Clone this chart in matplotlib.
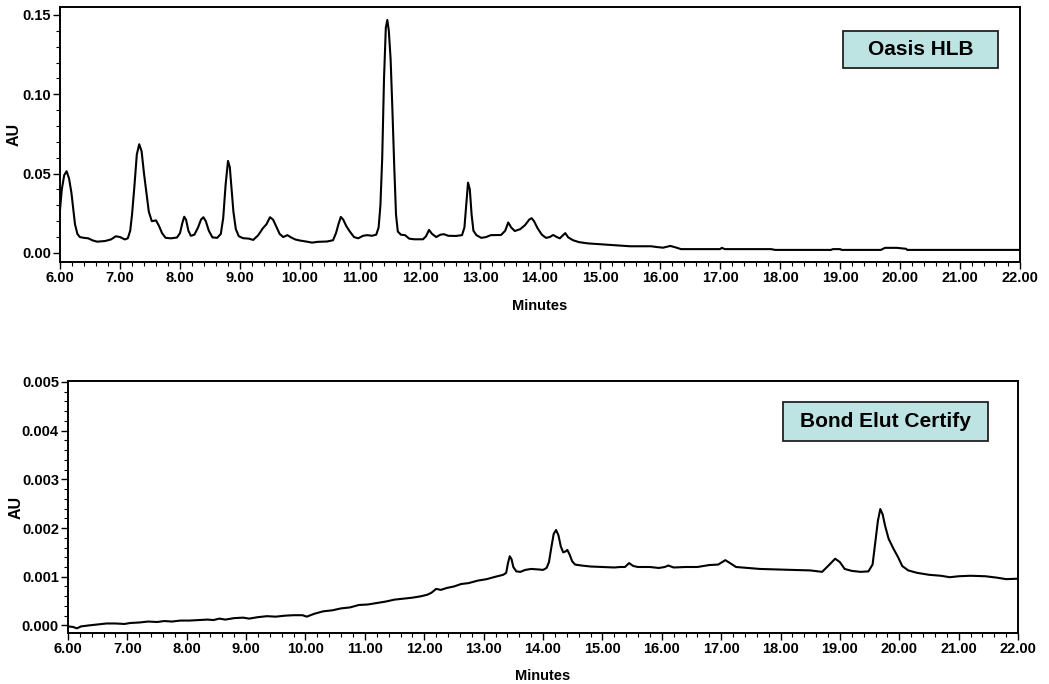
import numpy as np
import matplotlib
matplotlib.use("Agg")
import matplotlib.pyplot as plt
from matplotlib.patches import Rectangle
from matplotlib.ticker import MultipleLocator, FormatStrFormatter

plt.rcParams['font.family'] = ['Liberation Sans', 'DejaVu Sans']
plt.rcParams['font.weight'] = 'bold'

# Oasis HLB trace (minutes, AU)
hlb_t = [6.00, 6.03, 6.07, 6.11, 6.15, 6.19, 6.22, 6.25, 6.29, 6.33, 6.40, 6.47, 6.55, 6.62, 6.75,
         6.85, 6.93, 7.00, 7.08, 7.13, 7.17, 7.20, 7.24, 7.28, 7.32, 7.36, 7.40, 7.44, 7.48, 7.53,
         7.60, 7.65, 7.70, 7.76, 7.85, 7.95, 8.00, 8.04, 8.07, 8.10, 8.14, 8.18, 8.24, 8.30, 8.35,
         8.39, 8.43, 8.48, 8.54, 8.62, 8.68, 8.72, 8.76, 8.80, 8.83, 8.86, 8.89, 8.93, 8.98, 9.05,
         9.15, 9.22, 9.30, 9.38, 9.44, 9.50, 9.55, 9.60, 9.66, 9.72, 9.79, 9.85, 9.92, 10.00, 10.10,
         10.20, 10.30, 10.45, 10.55, 10.60, 10.64, 10.68, 10.72, 10.77, 10.83, 10.90, 10.97, 11.05,
         11.12, 11.20, 11.27, 11.31, 11.34, 11.37, 11.40, 11.43, 11.455, 11.48, 11.51, 11.54, 11.57,
         11.60, 11.63, 11.68, 11.75, 11.82, 11.90, 12.05, 12.10, 12.15, 12.20, 12.27, 12.34, 12.40,
         12.47, 12.60, 12.70, 12.74, 12.77, 12.80, 12.83, 12.86, 12.89, 12.94, 13.02, 13.10, 13.18,
         13.35, 13.42, 13.47, 13.52, 13.58, 13.67, 13.75, 13.82, 13.86, 13.90, 13.96, 14.03, 14.10,
         14.16, 14.22, 14.28, 14.33, 14.38, 14.42, 14.47, 14.55, 14.65, 14.80, 15.00, 15.20, 15.50,
         15.85, 15.95, 16.05, 16.17, 16.25, 16.35, 17.00, 17.03, 17.08, 17.85, 17.92, 18.85, 18.88,
         19.00, 19.03, 19.68, 19.75, 19.95, 20.10, 20.12, 22.00]
hlb_au = [0.027, 0.040, 0.049, 0.0515, 0.047, 0.038, 0.028, 0.018, 0.012, 0.0100, 0.0095, 0.0092,
          0.0078, 0.0071, 0.0075, 0.0085, 0.0105, 0.0100, 0.0085, 0.0092, 0.014, 0.024, 0.042,
          0.062, 0.0685, 0.064, 0.050, 0.038, 0.026, 0.020, 0.0205, 0.017, 0.0125, 0.0095, 0.0092,
          0.0097, 0.0125, 0.019, 0.0228, 0.021, 0.014, 0.0108, 0.0115, 0.016, 0.021, 0.0225, 0.020,
          0.014, 0.0098, 0.0095, 0.012, 0.022, 0.043, 0.058, 0.054, 0.040, 0.026, 0.015, 0.0105,
          0.0093, 0.0090, 0.0082, 0.011, 0.0155, 0.018, 0.0225, 0.021, 0.017, 0.012, 0.0100, 0.0112,
          0.0098, 0.0085, 0.0078, 0.0072, 0.0065, 0.0070, 0.0072, 0.0080, 0.0125, 0.018, 0.0227,
          0.021, 0.017, 0.0135, 0.0100, 0.0092, 0.0108, 0.0112, 0.0108, 0.0115, 0.016, 0.030, 0.060,
          0.110, 0.142, 0.1468, 0.140, 0.122, 0.090, 0.055, 0.024, 0.0135, 0.0115, 0.0112, 0.0090,
          0.0086, 0.0086, 0.0105, 0.0145, 0.012, 0.0100, 0.0115, 0.0118, 0.0108, 0.0107, 0.0112,
          0.016, 0.030, 0.0443, 0.040, 0.024, 0.014, 0.0112, 0.0095, 0.0100, 0.0112, 0.0113, 0.014,
          0.0192, 0.016, 0.0138, 0.015, 0.0175, 0.021, 0.0219, 0.020, 0.0155, 0.0115, 0.0095, 0.0100,
          0.0113, 0.0100, 0.0092, 0.0110, 0.0125, 0.0098, 0.0080, 0.0068, 0.0060, 0.0055, 0.0050,
          0.0042, 0.0042, 0.0037, 0.0033, 0.0044, 0.0036, 0.0024, 0.0024, 0.0032, 0.0024, 0.0024,
          0.0019, 0.0019, 0.0024, 0.0024, 0.0019, 0.0019, 0.0032, 0.0032, 0.0026, 0.0019, 0.0019]

# Bond Elut Certify trace
bec_t = [6.00, 6.08, 6.15, 6.22, 6.35, 6.50, 6.65, 6.80, 6.95, 7.05, 7.20, 7.35, 7.50, 7.62, 7.75,
         7.90, 8.05, 8.20, 8.35, 8.45, 8.55, 8.65, 8.80, 8.95, 9.05, 9.20, 9.35, 9.50, 9.65, 9.80,
         9.95, 10.02, 10.15, 10.30, 10.45, 10.60, 10.75, 10.90, 11.05, 11.20, 11.35, 11.50, 11.65,
         11.80, 11.95, 12.05, 12.12, 12.20, 12.28, 12.38, 12.50, 12.62, 12.75, 12.90, 13.05, 13.20,
         13.33, 13.38, 13.41, 13.44, 13.47, 13.50, 13.55, 13.62, 13.70, 13.80, 13.92, 14.00, 14.06,
         14.10, 14.14, 14.18, 14.22, 14.26, 14.30, 14.34, 14.38, 14.41, 14.45, 14.49, 14.54, 14.65,
         14.80, 15.00, 15.20, 15.30, 15.38, 15.45, 15.52, 15.60, 15.80, 15.95, 16.05, 16.11, 16.20,
         16.40, 16.60, 16.80, 16.95, 17.07, 17.15, 17.25, 17.45, 17.65, 17.90, 18.20, 18.50, 18.70,
         18.80, 18.92, 19.00, 19.08, 19.20, 19.35, 19.48, 19.55, 19.60, 19.64, 19.68, 19.72, 19.76,
         19.82, 19.90, 19.98, 20.05, 20.15, 20.30, 20.50, 20.70, 20.85, 21.00, 21.20, 21.45, 21.65,
         21.80, 22.00]
bec_au = [-0.00002, -0.00003, -0.00006, -0.00002, 0.00000, 0.00002, 0.00004, 0.00004, 0.00003,
          0.00005, 0.00006, 0.00008, 0.00007, 0.00009, 0.00008, 0.00010, 0.00010, 0.00011, 0.00012,
          0.00011, 0.00014, 0.00012, 0.00015, 0.00016, 0.00014, 0.00017, 0.00019, 0.00018, 0.00020,
          0.00021, 0.00021, 0.00018, 0.00024, 0.00029, 0.00031, 0.00035, 0.00037, 0.00042, 0.00043,
          0.00046, 0.00049, 0.00053, 0.00055, 0.00057, 0.00060, 0.00063, 0.00067, 0.00075, 0.00073,
          0.00077, 0.00080, 0.00085, 0.00087, 0.00092, 0.00095, 0.00100, 0.00104, 0.00108, 0.00128,
          0.00142, 0.00136, 0.00120, 0.00111, 0.00110, 0.00114, 0.00116, 0.00115, 0.00114, 0.00118,
          0.00130, 0.00160, 0.00188, 0.00196, 0.00185, 0.00162, 0.00150, 0.00152, 0.00155, 0.00145,
          0.00132, 0.00125, 0.00123, 0.00121, 0.00120, 0.00119, 0.00120, 0.00120, 0.00128, 0.00122,
          0.00120, 0.00120, 0.00118, 0.00120, 0.00123, 0.00119, 0.00120, 0.00120, 0.00124, 0.00125,
          0.00134, 0.00128, 0.00120, 0.00118, 0.00116, 0.00115, 0.00114, 0.00113, 0.00110, 0.00122,
          0.00137, 0.00130, 0.00116, 0.00112, 0.00110, 0.00111, 0.00125, 0.00175, 0.00215, 0.00239,
          0.00228, 0.00205, 0.00178, 0.00158, 0.00140, 0.00122, 0.00113, 0.00108, 0.00104, 0.00102,
          0.00099, 0.00101, 0.00102, 0.00101, 0.00098, 0.00095, 0.00096]

box_color = '#bde3e3'

fig = plt.figure(figsize=(10.49, 6.84), dpi=100)
ax1 = fig.add_axes([0.0572, 0.617, 0.9152, 0.3728])
ax2 = fig.add_axes([0.0648, 0.0746, 0.9057, 0.3684])


def style_axes(ax, ymin, ymax, ymajor, yminor, yfmt, label_x, label_y, name, box):
    ax.set_xlim(6, 22)
    ax.set_ylim(ymin, ymax)
    ax.xaxis.set_major_locator(MultipleLocator(1))
    ax.xaxis.set_minor_locator(MultipleLocator(0.2))
    ax.xaxis.set_major_formatter(FormatStrFormatter('%.2f'))
    ax.yaxis.set_major_locator(MultipleLocator(ymajor))
    ax.yaxis.set_minor_locator(MultipleLocator(yminor))
    ax.yaxis.set_major_formatter(FormatStrFormatter(yfmt))
    ax.tick_params(which='major', direction='out', length=5, width=1, labelsize=10.5, pad=1.5)
    ax.tick_params(which='minor', direction='out', length=3, width=0.8)
    for lab in ax.get_xticklabels() + ax.get_yticklabels():
        lab.set_fontweight('bold')
    for sp in ax.spines.values():
        sp.set_linewidth(1.4)
    ax.set_xlabel('Minutes', fontsize=10.5, fontweight='bold')
    ax.set_ylabel('AU', fontsize=11.5, fontweight='bold')
    ax.xaxis.set_label_coords(0.5, label_y)
    ax.yaxis.set_label_coords(label_x, 0.5)
    x0, y0, x1, y1 = box
    ax.add_patch(Rectangle((x0, y0), x1 - x0, y1 - y0, transform=ax.transAxes,
                           facecolor=box_color, edgecolor='#222222', linewidth=1.3, zorder=3))
    ax.text((x0 + x1) / 2, (y0 + y1) / 2, name, transform=ax.transAxes, ha='center',
            va='center', fontsize=15, fontweight='bold', zorder=4)


ax1.plot(hlb_t, hlb_au, color='black', linewidth=1.5)
style_axes(ax1, -0.0057, 0.155, 0.05, 0.01, '%.2f', -0.040, -0.145, 'Oasis HLB',
           (0.8156, 0.761, 0.977, 0.906))

ax2.plot(bec_t, bec_au, color='black', linewidth=1.5)
style_axes(ax2, -0.000155, 0.00502, 0.001, 0.0002, '%.3f', -0.047, -0.143, 'Bond Elut Certify',
           (0.7526, 0.762, 0.9684, 0.917))

fig.savefig('out.png', dpi=100)
